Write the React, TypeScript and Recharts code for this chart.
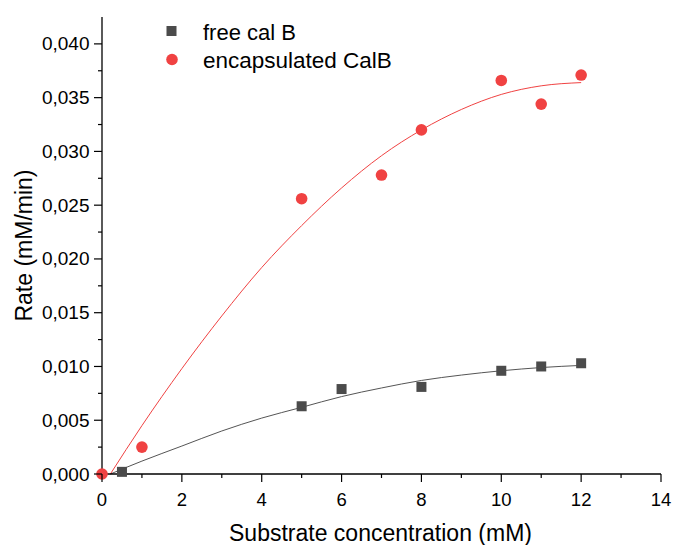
import { ComposedChart, Line, Scatter, XAxis, YAxis } from 'recharts';

// measured points
const freeX = [0.5, 5, 6, 8, 10, 11, 12];
const freeRate = [0.0002, 0.0063, 0.0079, 0.0081, 0.0096, 0.01, 0.0103];
const encX = [0, 1, 5, 7, 8, 10, 11, 12];
const encRate = [0, 0.0025, 0.0256, 0.0278, 0.032, 0.0366, 0.0344, 0.0371];

// fitted curves
const fitX = [0.21, 1, 2, 3, 4, 5, 6, 7, 8, 9, 10, 11, 12];
const freeFit = [0, 0.0012, 0.0026, 0.004, 0.0052, 0.0062, 0.0072, 0.008, 0.0087, 0.0092, 0.0096, 0.0099, 0.0101];
const encFit = [0, 0.0045, 0.0098, 0.0147, 0.0192, 0.0231, 0.0266, 0.0296, 0.032, 0.0339, 0.0353, 0.0361, 0.0364];

const xTicks = [0, 1, 2, 3, 4, 5, 6, 7, 8, 9, 10, 11, 12, 13, 14];
const yTicks = [
  0, 0.0025, 0.005, 0.0075, 0.01, 0.0125, 0.015, 0.0175, 0.02,
  0.0225, 0.025, 0.0275, 0.03, 0.0325, 0.035, 0.0375, 0.04,
];

const RED = '#f04242';
const GRAY = '#4b4b4b';
const FONT = '"Liberation Sans", Arial, sans-serif';

const freePts = freeX.map((x, i) => ({ x, y: freeRate[i] }));
const encPts = encX.map((x, i) => ({ x, y: encRate[i] }));
const freeLine = fitX.map((x, i) => ({ x, y: freeFit[i] }));
const encLine = fitX.map((x, i) => ({ x, y: encFit[i] }));

const XTick = (props: any) => {
  const { x, y, payload } = props;
  const v = payload.value;
  const major = v % 2 === 0;
  return (
    <g>
      <line x1={x} x2={x} y1={y} y2={y + (major ? 8 : 4)} stroke="#000" strokeWidth={1.2} />
      {major && (
        <text x={x} y={y + 31.5} textAnchor="middle" fontFamily={FONT} fontSize={18.5} fill="#000">
          {v}
        </text>
      )}
    </g>
  );
};

const YTick = (props: any) => {
  const { x, y, payload } = props;
  const v = payload.value;
  const major = Math.round(v / 0.0025) % 2 === 0;
  return (
    <g>
      <line x1={x} x2={x - (major ? 8 : 4)} y1={y} y2={y} stroke="#000" strokeWidth={1.2} />
      {major && (
        <text x={x - 12.5} y={y + 6.5} textAnchor="end" fontFamily={FONT} fontSize={19} fill="#000">
          {v.toFixed(3).replace('.', ',')}
        </text>
      )}
    </g>
  );
};

const Square = (p: any) => <rect x={p.cx - 5} y={p.cy - 5} width={10} height={10} fill={GRAY} />;
const Dot = (p: any) => <circle cx={p.cx} cy={p.cy} r={5.8} fill={RED} />;

export default function App() {
  return (
    <div style={{ position: 'absolute', left: 0, top: 0, width: 673, height: 545, background: '#fff' }}>
      <ComposedChart width={673} height={545} margin={{ top: 17, right: 12, bottom: 0, left: 0 }}>
        <XAxis
          type="number"
          dataKey="x"
          domain={[0, 14]}
          ticks={xTicks}
          interval={0}
          height={71}
          tickSize={0}
          tickMargin={0}
          tickLine={false}
          tick={<XTick />}
          axisLine={{ stroke: '#000', strokeWidth: 1.3 }}
        />
        <YAxis
          type="number"
          dataKey="y"
          domain={[0, 0.0425]}
          ticks={yTicks}
          interval={0}
          width={102}
          tickSize={0}
          tickMargin={0}
          tickLine={false}
          tick={<YTick />}
          axisLine={{ stroke: '#000', strokeWidth: 1.3 }}
        />
        <Line data={freeLine} dataKey="y" type="monotone" stroke="#555" strokeWidth={1} dot={false} isAnimationActive={false} />
        <Line data={encLine} dataKey="y" type="monotone" stroke={RED} strokeWidth={1} dot={false} isAnimationActive={false} />
        <Scatter data={freePts} dataKey="y" shape={<Square />} isAnimationActive={false} />
        <Scatter data={encPts} dataKey="y" shape={<Dot />} isAnimationActive={false} />
      </ComposedChart>
      <svg width={673} height={545} style={{ position: 'absolute', left: 0, top: 0, pointerEvents: 'none' }}>
        <rect x={166.5} y={26} width={10} height={10} fill={GRAY} />
        <circle cx={172} cy={59.5} r={5.8} fill={RED} />
        <text x={203} y={40} fontFamily={FONT} fontSize={22} fill="#000">free cal B</text>
        <text x={203} y={67.5} fontFamily={FONT} fontSize={22.5} fill="#000">encapsulated CalB</text>
        <text x={380.5} y={541} textAnchor="middle" fontFamily={FONT} fontSize={23} fill="#000">
          Substrate concentration (mM)
        </text>
        <text
          x={0}
          y={0}
          transform="translate(31.5 245.5) rotate(-90)"
          textAnchor="middle"
          fontFamily={FONT}
          fontSize={23}
          fill="#000"
        >
          Rate (mM/min)
        </text>
      </svg>
    </div>
  );
}
